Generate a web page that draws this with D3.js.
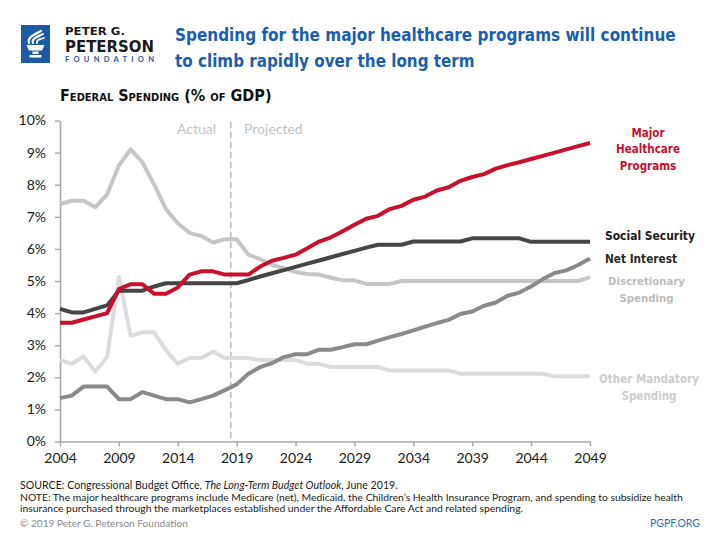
<!DOCTYPE html>
<html><head><meta charset="utf-8">
<script src="https://cdn.jsdelivr.net/npm/d3@7"></script>
<style>body{margin:0;background:#fff}</style>
</head><body>
<svg id="c" width="720" height="540" xmlns="http://www.w3.org/2000/svg"></svg>
<script>
const years = [2004,2005,2006,2007,2008,2009,2010,2011,2012,2013,2014,2015,2016,2017,2018,2019,2020,2021,2022,2023,2024,2025,2026,2027,2028,2029,2030,2031,2032,2033,2034,2035,2036,2037,2038,2039,2040,2041,2042,2043,2044,2045,2046,2047,2048,2049];
const majorHealth = [3.7,3.7,3.8,3.9,4.0,4.75,4.9,4.9,4.6,4.6,4.8,5.2,5.3,5.3,5.2,5.2,5.2,5.45,5.63,5.72,5.82,6.02,6.23,6.36,6.55,6.75,6.94,7.03,7.24,7.34,7.53,7.63,7.82,7.92,8.12,8.24,8.33,8.5,8.61,8.7,8.8,8.9,9.0,9.1,9.2,9.3];
const socialSecurity = [4.13,4.02,4.02,4.13,4.24,4.7,4.7,4.7,4.83,4.93,4.93,4.93,4.93,4.93,4.93,4.93,5.03,5.14,5.24,5.34,5.44,5.54,5.64,5.74,5.84,5.94,6.04,6.13,6.13,6.13,6.23,6.23,6.23,6.23,6.23,6.33,6.33,6.33,6.33,6.33,6.22,6.22,6.22,6.22,6.22,6.22];
const netInterest = [1.35,1.43,1.71,1.71,1.71,1.32,1.32,1.54,1.43,1.32,1.32,1.22,1.32,1.43,1.6,1.78,2.11,2.32,2.44,2.63,2.72,2.72,2.86,2.86,2.94,3.03,3.03,3.14,3.25,3.35,3.46,3.58,3.69,3.79,3.97,4.05,4.23,4.33,4.54,4.64,4.83,5.06,5.25,5.33,5.5,5.7];
const discretionary = [7.4,7.5,7.5,7.3,7.7,8.6,9.1,8.7,8.0,7.24,6.8,6.5,6.4,6.2,6.3,6.3,5.82,5.68,5.5,5.4,5.28,5.22,5.2,5.1,5.02,5.02,4.91,4.91,4.91,5.0,5.0,5.0,5.0,5.0,5.0,5.0,5.0,5.0,5.0,5.0,5.0,5.0,5.0,5.0,5.0,5.12];
const otherMandatory = [2.54,2.42,2.65,2.18,2.63,5.12,3.29,3.4,3.4,2.84,2.42,2.6,2.6,2.8,2.6,2.6,2.6,2.54,2.54,2.54,2.54,2.42,2.42,2.32,2.32,2.32,2.32,2.32,2.21,2.21,2.21,2.21,2.21,2.21,2.11,2.11,2.11,2.11,2.11,2.11,2.11,2.11,2.03,2.03,2.03,2.03];
const xTicks = [2004,2009,2014,2019,2024,2029,2034,2039,2044,2049];
const yTicks = [0,1,2,3,4,5,6,7,8,9,10];

const svg = d3.select("#c");
const x = d3.scaleLinear().domain([2004,2049]).range([60,590]);
const y = d3.scaleLinear().domain([0,10]).range([441.5,120.5]);

const NARROW = "'Liberation Sans Narrow','DejaVu Sans Condensed','Roboto Condensed',sans-serif";
const LATO = "Lato,'Open Sans',sans-serif";
const BLUE = "#1b5eab";

function fit(sel, w) {
  const n = sel.node();
  const cur = parseFloat(sel.attr("font-size"));
  const len = n.getComputedTextLength();
  if (len > 0) sel.attr("font-size", (cur * w / len).toFixed(2));
  return sel;
}

// ---- Logo ----
const logo = svg.append("g");
logo.append("rect").attr("x",21).attr("y",25).attr("width",29).attr("height",38).attr("fill","#1c5aa6");
logo.append("path").attr("d","M26.5,45 L44.5,45 L42,50.5 L29,50.5 Z").attr("fill","#fff");
logo.append("rect").attr("x",32.5).attr("y",51.5).attr("width",6).attr("height",2.5).attr("fill","#fff");
logo.append("rect").attr("x",29.5).attr("y",55).attr("width",12).attr("height",2.5).attr("fill","#fff");
logo.append("path").attr("d","M29,43 C27,38 33,35 41,31").attr("fill","none").attr("stroke","#fff").attr("stroke-width",2.2).attr("stroke-linecap","round");
logo.append("path").attr("d","M33,43 C31,39 37,37 43,34").attr("fill","none").attr("stroke","#fff").attr("stroke-width",2).attr("stroke-linecap","round");
logo.append("path").attr("d","M37,43 C36,40 40,39 44,38").attr("fill","none").attr("stroke","#fff").attr("stroke-width",1.8).attr("stroke-linecap","round");
logo.append("text").attr("x",65).attr("y",34.5).attr("font-family",NARROW).attr("font-weight","bold").attr("font-size",10.8).attr("fill","#1a1a1a")
  .attr("textLength",60).attr("lengthAdjust","spacingAndGlyphs").text("PETER G.");
logo.append("text").attr("x",65).attr("y",51.8).attr("font-family",NARROW).attr("font-weight","bold").attr("font-size",16.5).attr("fill","#1a1a1a")
  .attr("textLength",89).attr("lengthAdjust","spacingAndGlyphs").text("PETERSON");
logo.append("text").attr("x",65).attr("y",62.3).attr("font-family",LATO).attr("font-weight","bold").attr("font-size",7.6).attr("fill","#1c5aa6")
  .attr("textLength",89).attr("lengthAdjust","spacing").text("FOUNDATION");

// ---- Title ----
fit(svg.append("text").attr("x",175).attr("y",41).attr("font-family",NARROW).attr("font-weight","bold").attr("font-size",20).attr("fill",BLUE)
  .text("Spending for the major healthcare programs will continue"),501);
fit(svg.append("text").attr("x",175).attr("y",66.5).attr("font-family",NARROW).attr("font-weight","bold").attr("font-size",20).attr("fill",BLUE)
  .text("to climb rapidly over the long term"),300);

// ---- Y title ----
fit(svg.append("text").attr("x",60).attr("y",100.5).attr("font-family",NARROW).attr("font-weight","bold").attr("font-size",16)
  .style("font-variant","small-caps").attr("fill","#111").text("Federal Spending (% of GDP)"),212);

// ---- Axes ----
const yAxis = svg.append("g").attr("transform","translate(60,0)")
  .call(d3.axisLeft(y).tickValues(yTicks).tickFormat(d=>d+"%").tickSize(5).tickSizeOuter(0).tickPadding(9));
const xAxis = svg.append("g").attr("transform","translate(0,441.5)")
  .call(d3.axisBottom(x).tickValues(xTicks).tickFormat(d3.format("d")).tickSize(5).tickSizeOuter(0).tickPadding(7));
[yAxis,xAxis].forEach(a=>{
  a.select(".domain").attr("stroke","#a8a8a8").attr("stroke-width",1.6);
  a.selectAll(".tick line").attr("stroke","#a8a8a8").attr("stroke-width",1.4);
  a.selectAll(".tick text").attr("font-family",LATO).attr("font-size",14).attr("fill","#1a1a1a");
});

// ---- Actual / Projected ----
svg.append("line").attr("x1",x(2018.5)).attr("x2",x(2018.5)).attr("y1",122).attr("y2",441.5)
  .attr("stroke","#b8b8b8").attr("stroke-width",1.5).attr("stroke-dasharray","6,4");
svg.append("text").attr("x",216).attr("y",134).attr("text-anchor","end").attr("font-family",LATO).attr("font-size",14).attr("fill","#c2c2c2").text("Actual");
svg.append("text").attr("x",244).attr("y",134).attr("font-family",LATO).attr("font-size",14).attr("fill","#c2c2c2").text("Projected");

// ---- Lines ----
const series = [
  {vals: otherMandatory, color:"#dcdcdc"},
  {vals: discretionary, color:"#c6c6c6"},
  {vals: netInterest, color:"#8a8a8a"},
  {vals: socialSecurity, color:"#454545"},
  {vals: majorHealth, color:"#c8102e"}
];
const line = d3.line().x((d,i)=>x(years[i])).y(d=>y(d));
svg.append("g").selectAll("path").data(series).join("path")
  .attr("d", d=>line(d.vals)).attr("fill","none").attr("stroke",d=>d.color)
  .attr("stroke-width",4).attr("stroke-linejoin","round").attr("stroke-linecap","butt");

// ---- Labels (each block sized from its widest line) ----
const lab = svg.append("g").attr("font-family",NARROW).attr("font-weight","bold");
function labelBlock(lines, xx, y0, dy, anchor, color, widest, w) {
  const probe = lab.append("text").attr("font-size",15).text(lines[widest]);
  const size = 15 * w / probe.node().getComputedTextLength();
  probe.remove();
  lines.forEach((t,i)=>{
    lab.append("text").attr("x",xx).attr("y",y0+i*dy).attr("text-anchor",anchor)
      .attr("font-size",size.toFixed(2)).attr("fill",color).text(t);
  });
}
labelBlock(["Major","Healthcare","Programs"],648,136.5,16.6,"middle","#c8102e",1,64);
labelBlock(["Social Security"],605,240,0,"start","#1a1a1a",0,90);
labelBlock(["Net Interest"],605,263.3,0,"start","#2a2a2a",0,72);
labelBlock(["Discretionary","Spending"],646.5,285,16.6,"middle","#bdbdbd",0,77);
labelBlock(["Other Mandatory","Spending"],649,383,16.8,"middle","#cdcdcd",0,100);

// ---- Footer ----
const src = svg.append("text").attr("x",20).attr("y",489).attr("font-family",LATO).attr("font-size",11).attr("fill","#1a1a1a");
src.append("tspan").text("SOURCE: Congressional Budget Office, ");
src.append("tspan").attr("font-style","italic").text("The Long-Term Budget Outlook");
src.append("tspan").text(", June 2019.");
fit(src,378);
fit(svg.append("text").attr("x",20).attr("y",500.7).attr("font-family",LATO).attr("font-size",11).attr("fill","#1a1a1a")
  .text("NOTE: The major healthcare programs include Medicare (net), Medicaid, the Children\u2019s Health Insurance Program, and spending to subsidize health"),663);
fit(svg.append("text").attr("x",20).attr("y",511.7).attr("font-family",LATO).attr("font-size",11).attr("fill","#1a1a1a")
  .text("insurance purchased through the marketplaces established under the Affordable Care Act and related spending."),503);
fit(svg.append("text").attr("x",20).attr("y",526.7).attr("font-family",LATO).attr("font-size",11).attr("fill","#8a8a8a")
  .text("\u00a9 2019 Peter G. Peterson Foundation"),168);
fit(svg.append("text").attr("x",650).attr("y",526.7).attr("font-family",LATO).attr("font-size",11).attr("fill","#2a6ebb")
  .text("PGPF.ORG"),50);
</script>
</body></html>
